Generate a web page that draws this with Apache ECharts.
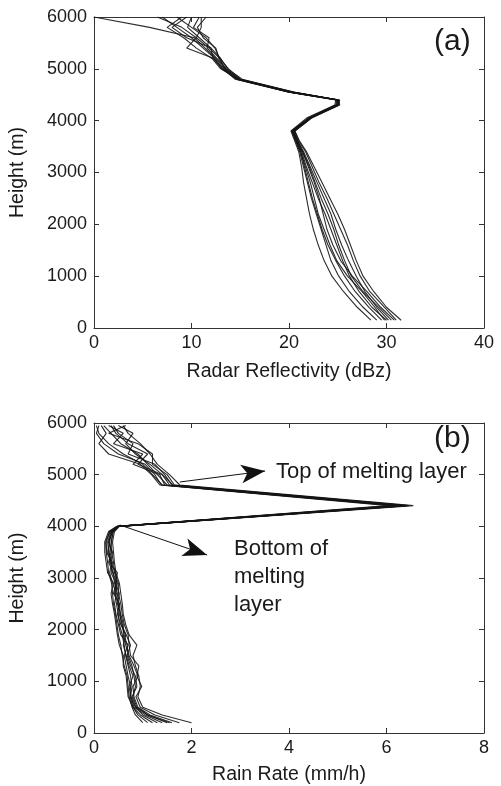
<!DOCTYPE html>
<html>
<head>
<meta charset="utf-8">
<script src="https://cdn.jsdelivr.net/npm/echarts@6/dist/echarts.min.js"></script>
<style>html,body{margin:0;padding:0;background:#fff}#c{width:501px;height:786px}</style>
</head>
<body>
<div id="c"></div>
<script>
// Heights (m) for reflectivity profiles (panel a)
var heightsA = [150, 400, 700, 1000, 1300, 1600, 1900, 2200, 2500, 2800, 3100, 3400, 3600, 3800, 4050, 4300, 4400, 4550, 4800, 5000, 5200, 5400, 5600, 5800, 6000];
// Reflectivity profiles (dBz)
var z1  = [28.4, 27.0, 25.6, 24.4, 23.6, 23.0, 22.5, 22.1, 21.8, 21.5, 21.3, 21.0, 20.6, 20.2, 21.8, 24.7, 24.8, 20.0, 14.5, 13.2, 12.4, 11.2, 10.0, 8.5, 7.0];
var z2  = [31.5, 30.0, 28.7, 27.6, 26.9, 26.3, 25.7, 25.0, 24.2, 23.4, 22.6, 21.8, 21.1, 20.6, 22.3, 25.1, 25.1, 20.4, 15.0, 13.5, 12.8, 12.5, 11.2, 10.6, 11.5];
var z3  = [29.5, 28.2, 26.8, 25.7, 24.8, 24.0, 23.4, 22.9, 22.4, 22.0, 21.6, 21.2, 20.8, 20.3, 22.0, 24.9, 25.0, 20.1, 14.7, 13.4, 12.9, 11.8, 10.5, 9.0, 6.5];
var z4  = [30.2, 29.0, 27.8, 26.9, 26.1, 25.4, 24.8, 24.3, 23.6, 22.9, 22.2, 21.5, 20.9, 20.4, 22.1, 25.0, 25.2, 20.2, 14.8, 13.0, 12.1, 10.5, 9.2, 7.5, 9.0];
var z5  = [30.8, 29.4, 28.0, 26.5, 25.3, 24.5, 23.9, 23.5, 23.1, 22.6, 22.0, 21.4, 20.9, 20.5, 22.2, 25.0, 25.0, 20.3, 14.9, 13.6, 12.6, 11.6, 11.8, 10.2, 10.8];
var z6  = [29.0, 27.6, 26.2, 25.1, 24.3, 23.8, 23.3, 22.8, 22.3, 21.9, 21.5, 21.1, 20.7, 20.3, 22.0, 24.8, 24.9, 20.0, 14.6, 13.3, 12.2, 12.0, 10.8, 9.6, 10.0];
var z7  = [31.0, 29.8, 28.3, 27.3, 26.6, 26.0, 25.3, 24.6, 23.9, 23.1, 22.4, 21.7, 21.0, 20.6, 22.3, 25.2, 25.1, 20.5, 15.2, 13.7, 13.0, 12.0, 9.5, 8.0, 9.5];
var z8  = [30.0, 28.5, 27.2, 26.2, 25.5, 24.9, 24.3, 23.7, 23.0, 22.4, 21.8, 21.3, 20.8, 20.4, 22.1, 24.9, 25.0, 20.2, 14.8, 13.1, 12.3, 9.5, 10.5, 11.0, 11.0];
var z9  = [29.8, 28.8, 27.5, 26.0, 24.9, 24.2, 23.6, 23.0, 22.6, 22.2, 21.7, 21.2, 20.7, 20.3, 22.0, 24.9, 25.0, 20.1, 14.7, 13.4, 12.5, 11.4, 10.3, 5.7, 0.0];
var z10 = [30.5, 29.2, 27.6, 26.4, 25.7, 25.1, 24.6, 24.0, 23.3, 22.7, 22.1, 21.4, 20.9, 20.5, 22.2, 25.1, 25.1, 20.4, 15.0, 13.8, 12.9, 12.4, 11.5, 10.0, 8.5];

// Heights (m) for rain-rate profiles (panel b)
var heightsB = [200, 350, 500, 700, 900, 1100, 1300, 1500, 1700, 1900, 2100, 2300, 2500, 2700, 2900, 3100, 3300, 3500, 3700, 3900, 4000, 4400, 4800, 5000, 5200, 5400, 5600, 5800, 5950];
// Rain-rate profiles (mm/h)
var r1  = [1.00, 0.85, 0.78, 0.72, 0.70, 0.68, 0.62, 0.58, 0.55, 0.50, 0.47, 0.44, 0.40, 0.38, 0.36, 0.30, 0.28, 0.25, 0.24, 0.32, 0.48, 6.20, 1.40, 1.20, 1.00, 0.60, 0.30, 0.10, 0.05];
var r2  = [2.00, 1.40, 1.00, 0.90, 0.95, 0.92, 0.85, 0.80, 0.88, 0.72, 0.65, 0.60, 0.58, 0.55, 0.52, 0.45, 0.42, 0.40, 0.38, 0.42, 0.52, 6.55, 1.76, 1.55, 1.30, 1.15, 0.95, 0.70, 0.60];
var r3  = [1.30, 1.00, 0.85, 0.75, 0.78, 0.75, 0.70, 0.65, 0.62, 0.58, 0.52, 0.50, 0.46, 0.44, 0.48, 0.38, 0.35, 0.30, 0.28, 0.35, 0.50, 6.30, 1.50, 1.30, 1.10, 0.90, 0.55, 0.35, 0.20];
var r4  = [1.55, 1.10, 0.88, 0.80, 0.85, 0.82, 0.78, 0.70, 0.68, 0.62, 0.58, 0.52, 0.50, 0.48, 0.42, 0.40, 0.30, 0.35, 0.30, 0.38, 0.50, 6.40, 1.60, 1.45, 1.25, 0.70, 0.80, 0.50, 0.40];
var r5  = [1.40, 1.05, 0.82, 0.76, 0.72, 0.80, 0.72, 0.66, 0.60, 0.65, 0.55, 0.48, 0.52, 0.40, 0.45, 0.35, 0.38, 0.28, 0.32, 0.36, 0.49, 6.25, 1.45, 1.35, 0.80, 1.00, 0.40, 0.60, 0.30];
var r6  = [1.75, 1.25, 0.95, 0.86, 0.98, 0.88, 0.92, 0.75, 0.72, 0.70, 0.62, 0.58, 0.55, 0.50, 0.50, 0.42, 0.40, 0.36, 0.35, 0.40, 0.51, 6.45, 1.65, 1.50, 1.20, 1.20, 0.90, 0.30, 0.65];
var r7  = [1.20, 0.95, 0.80, 0.74, 0.75, 0.70, 0.66, 0.62, 0.70, 0.55, 0.50, 0.45, 0.42, 0.46, 0.38, 0.32, 0.36, 0.26, 0.25, 0.33, 0.48, 6.15, 1.38, 1.25, 1.05, 0.50, 0.20, 0.05, 0.10];
var r8  = [1.60, 1.15, 0.90, 0.82, 0.80, 0.90, 0.82, 0.72, 0.65, 0.60, 0.60, 0.55, 0.48, 0.52, 0.44, 0.48, 0.32, 0.32, 0.36, 0.38, 0.50, 6.35, 1.55, 1.40, 1.15, 0.85, 0.65, 0.80, 0.50];
var r9  = [1.10, 0.90, 0.80, 0.70, 0.68, 0.66, 0.60, 0.60, 0.52, 0.48, 0.45, 0.42, 0.38, 0.35, 0.40, 0.28, 0.25, 0.22, 0.22, 0.30, 0.47, 6.05, 1.35, 1.18, 0.95, 0.30, 0.10, 0.25, 0.15];
var r10 = [1.50, 1.10, 0.86, 0.78, 0.88, 0.85, 0.75, 0.68, 0.75, 0.66, 0.56, 0.54, 0.52, 0.42, 0.46, 0.44, 0.34, 0.38, 0.30, 0.37, 0.50, 6.40, 1.62, 1.40, 0.90, 1.10, 0.70, 0.45, 0.35];

// Annotation arrows (data coordinates in panel b)
var arrowTop = [[1.76, 4858], [3.51, 5071]];
var arrowBottom = [[0.53, 4026], [2.32, 3445]];

var profilesA = [z1, z2, z3, z4, z5, z6, z7, z8, z9, z10];
var profilesB = [r1, r2, r3, r4, r5, r6, r7, r8, r9, r10];

var FONT = 'Liberation Sans, Arial, sans-serif';
var TXT = '#1a1a1a';
var AX = '#333';

function xAx(grid, max, interval, name, pos, gap) {
  var main = pos === 'bottom';
  return {
    type: 'value', gridIndex: grid, min: 0, max: max, interval: interval, position: pos,
    name: main ? name : '', nameLocation: 'middle', nameGap: gap || 34,
    nameTextStyle: {fontFamily: FONT, fontSize: 19.5, color: TXT},
    axisLine: {show: true, onZero: false, lineStyle: {color: AX, width: 1}},
    axisTick: {show: true, inside: true, length: 5, lineStyle: {color: AX}},
    axisLabel: {show: main, fontFamily: FONT, fontSize: 18, color: TXT, margin: 6,
      formatter: function (v) { return String(v); }},
    splitLine: {show: false}
  };
}
function yAx(grid, pos) {
  var main = pos === 'left';
  return {
    type: 'value', gridIndex: grid, min: 0, max: 6000, interval: 1000, position: pos,
    name: main ? 'Height (m)' : '', nameLocation: 'middle', nameGap: 66, nameRotate: 90,
    nameTextStyle: {fontFamily: FONT, fontSize: 19.5, color: TXT},
    axisLine: {show: true, onZero: false, lineStyle: {color: AX, width: 1}},
    axisTick: {show: true, inside: true, length: 5, lineStyle: {color: AX}},
    axisLabel: {show: main, fontFamily: FONT, fontSize: 18, color: TXT, margin: 7,
      formatter: function (v) { return String(v); }},
    splitLine: {show: false}
  };
}

var series = [];
profilesA.forEach(function (p) {
  series.push({
    type: 'line', xAxisIndex: 0, yAxisIndex: 0, showSymbol: false, symbol: 'none',
    data: heightsA.map(function (h, i) { return [p[i], h]; }),
    lineStyle: {color: '#151515', width: 1.1, opacity: 0.9}, silent: true
  });
});
profilesB.forEach(function (p) {
  series.push({
    type: 'line', xAxisIndex: 2, yAxisIndex: 2, showSymbol: false, symbol: 'none',
    data: heightsB.map(function (h, i) { return [p[i], h]; }),
    lineStyle: {color: '#151515', width: 1.1, opacity: 0.9}, silent: true
  });
});
series.push({
  type: 'line', xAxisIndex: 2, yAxisIndex: 2, data: [], silent: true,
  markLine: {
    silent: true, animation: false,
    symbol: ['none', 'arrow'], symbolSize: [14, 24],
    label: {show: false},
    lineStyle: {color: '#111', width: 1, type: 'solid'},
    data: [
      [{coord: arrowTop[0]}, {coord: arrowTop[1]}],
      [{coord: arrowBottom[0]}, {coord: arrowBottom[1]}]
    ]
  }
});

var chart = echarts.init(document.getElementById('c'), null, {renderer: 'canvas'});
chart.setOption({
  animation: false,
  backgroundColor: '#fff',
  grid: [
    {left: 94, right: 17, top: 17, height: 311},
    {left: 94, right: 17, top: 423, height: 310}
  ],
  xAxis: [
    xAx(0, 40, 10, 'Radar Reflectivity (dBz)', 'bottom', 34),
    xAx(0, 40, 10, '', 'top'),
    xAx(1, 8, 2, 'Rain Rate (mm/h)', 'bottom', 32),
    xAx(1, 8, 2, '', 'top')
  ],
  yAxis: [yAx(0, 'left'), yAx(0, 'right'), yAx(1, 'left'), yAx(1, 'right')],
  series: series,
  graphic: [
    {type: 'text', left: 434, top: 27, style: {text: '(a)', fontFamily: FONT, fontSize: 30, fill: TXT}},
    {type: 'text', left: 434, top: 424, style: {text: '(b)', fontFamily: FONT, fontSize: 30, fill: TXT}},
    {type: 'text', left: 276, top: 461, style: {text: 'Top of melting layer', fontFamily: FONT, fontSize: 22, fill: TXT}},
    {type: 'text', left: 234, top: 535, style: {text: 'Bottom of\nmelting\nlayer', fontFamily: FONT, fontSize: 22, lineHeight: 28, fill: TXT}}
  ]
});
</script>
</body>
</html>
